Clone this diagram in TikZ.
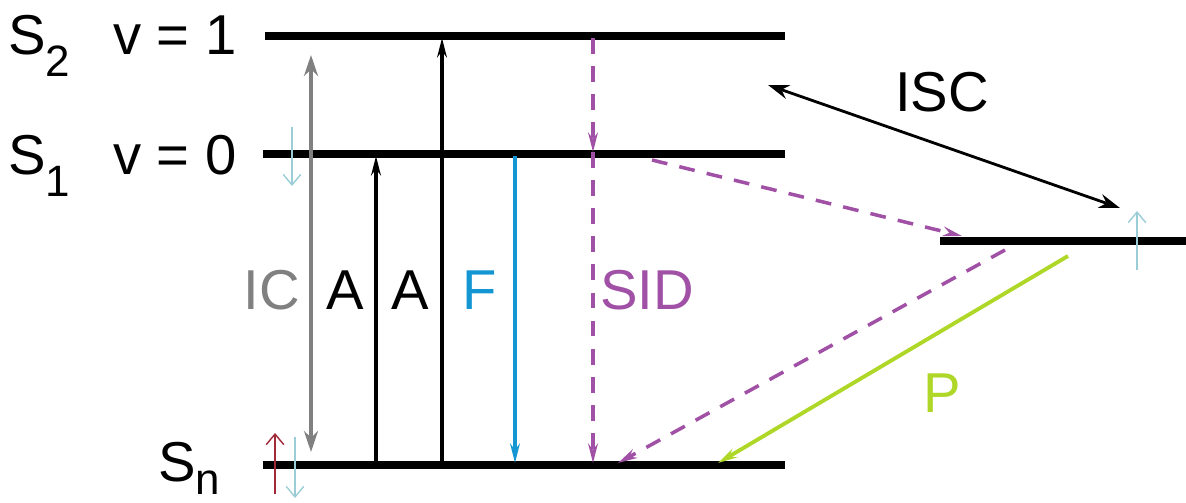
\documentclass[tikz,border=0pt]{standalone}
\usepackage{fontspec}
\setmainfont{Liberation Sans}
\usetikzlibrary{arrows.meta,positioning,calc}

\definecolor{icgray}{RGB}{128,128,128}
\definecolor{fblue}{RGB}{20,150,210}
\definecolor{sidpurple}{RGB}{160,80,165}
\definecolor{pgreen}{RGB}{175,215,40}
\definecolor{spinblue}{RGB}{155,205,215}
\definecolor{spinred}{RGB}{160,40,55}

\begin{document}
\begin{tikzpicture}[x=0.02cm, y=-0.02cm,
  level/.style={line width=4pt},
  lbl/.style={inner sep=0pt, font=\fontsize{32}{32}\selectfont},
  arr/.style={-{Stealth[length=11pt, width=5.5pt]}, line width=2pt},
  dasharr/.style={arr, sidpurple, dash pattern=on 9pt off 7pt},
  dblarr/.style={{Stealth[length=12pt, width=8pt]}-{Stealth[length=12pt, width=8pt]}, line width=1.6pt},
  spin/.style={-{Straight Barb[length=6pt, width=10pt]}, line width=0.8pt}
]
\useasboundingbox (0,0) rectangle (1186,503);

% energy levels
\coordinate (s2l) at (265,36);  \coordinate (s2r) at (785,36);
\coordinate (s1l) at (263,154); \coordinate (s1r) at (785,154);
\coordinate (snl) at (263,465); \coordinate (snr) at (785,465);
\coordinate (t1l) at (940,241); \coordinate (t1r) at (1186,241);
\draw[level] (s2l) -- (s2r);
\draw[level] (s1l) -- (s1r);
\draw[level] (snl) -- (snr);
\draw[level] (t1l) -- (t1r);

% level labels
\node[lbl, anchor=base west] (s2name) at (8,55) {S\raisebox{-12pt}{\fontsize{25}{25}\selectfont 2}};
\node[lbl, anchor=base west] (s1name) at (8,175) {S\raisebox{-12pt}{\fontsize{25}{25}\selectfont 1}};
\node[lbl, anchor=base west] (snname) at (158,481) {S\raisebox{-7.5pt}{\fontsize{25}{25}\selectfont n}};
\node[lbl, anchor=base east] (s2v) at (237,55) {v = 1};
\node[lbl, anchor=base east] (s1v) at (237,175) {v = 0};

% transitions
\coordinate (ictop) at (311,55);  \coordinate (icbot) at (311,452);
\draw[dblarr, icgray, line width=2.5pt] (icbot) -- (ictop);
\coordinate (a1top) at (376,156); \coordinate (a1bot) at (376,465);
\draw[arr] (a1bot) -- (a1top);
\coordinate (a2top) at (442,38);  \coordinate (a2bot) at (442,465);
\draw[arr] (a2bot) -- (a2top);
\coordinate (ftop) at (515,156);  \coordinate (fbot) at (515,463);
\draw[arr, fblue] (ftop) -- (fbot);
\coordinate (sidtop) at (593,38); \coordinate (sidmid) at (593,152); \coordinate (sidbot) at (593,463);
\draw[dasharr] (sidtop) -- (sidmid);
\draw[dasharr] (sidmid) -- (sidbot);

\coordinate (iscs1) at (768,85);  \coordinate (isct1) at (1120,208);
\draw[dblarr] (iscs1) -- (isct1);
\coordinate (ists) at (652,160);  \coordinate (iste) at (962,236);
\draw[dasharr] (ists) -- (iste);
\coordinate (rists) at (1005,250); \coordinate (riste) at (618,463);
\draw[dasharr] (rists) -- (riste);
\coordinate (phs) at (1068,256);  \coordinate (phe) at (718,463);
\draw[arr, pgreen, line width=2.2pt] (phs) -- (phe);

% spins
\coordinate (u1s) at (292,127); \coordinate (u1e) at (292,186);
\draw[spin, spinblue] (u1s) -- (u1e);
\coordinate (u2s) at (1137,270); \coordinate (u2e) at (1137,211);
\draw[spin, spinblue] (u2s) -- (u2e);
\coordinate (u3s) at (275,494); \coordinate (u3e) at (275,433);
\draw[spin, spinred] (u3s) -- (u3e);
\coordinate (u4s) at (295,437); \coordinate (u4e) at (295,498);
\draw[spin, spinblue] (u4s) -- (u4e);

% transition labels
\node[lbl, icgray] (iclbl) at (272,290) {IC};
\node[lbl] (a1lbl) at (345,290) {A};
\node[lbl] (a2lbl) at (410,290) {A};
\node[lbl, fblue] (flbl) at (480,290) {F};
\node[lbl, sidpurple] (sidlbl) at (647,290) {SID};
\node[lbl] (isclbl) at (942,92) {ISC};
\node[lbl, pgreen] (plbl) at (942,393) {P};
\end{tikzpicture}
\end{document}
